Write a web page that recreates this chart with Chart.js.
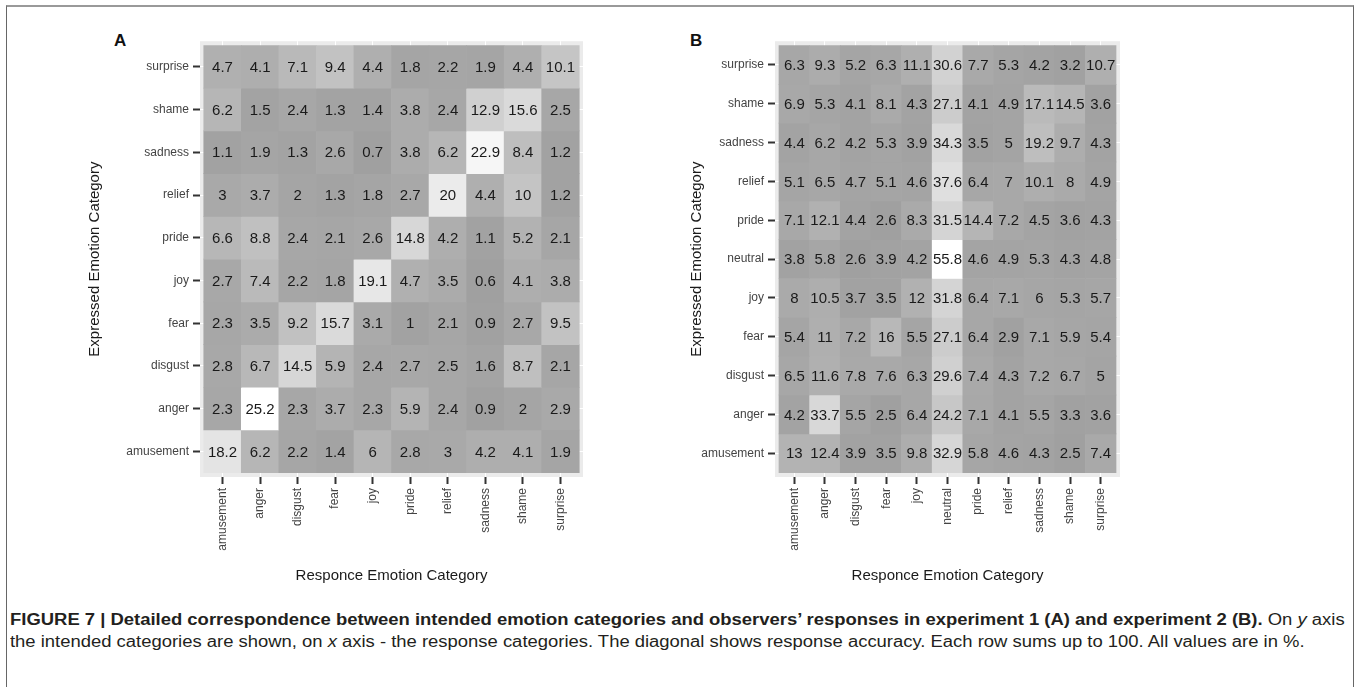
<!DOCTYPE html>
<html>
<head>
<meta charset="utf-8">
<script src="https://cdn.jsdelivr.net/npm/chart.js@4.4.1/dist/chart.umd.min.js"></script>
<style>
  body { margin: 0; background: #fff; width: 1357px; height: 687px; overflow: hidden; position: relative; font-family: "Liberation Sans", Arial, sans-serif; }
  #frame { position: absolute; left: 6px; top: 5px; width: 1348px; height: 700px; border-top: 2px solid #999; border-left: 1px solid #666; border-right: 1px solid #666; box-sizing: border-box; }
  .box { position: absolute; }
  .letter { position: absolute; font-weight: bold; font-size: 17px; color: #111; }
  .cap { position: absolute; left: 10px; font-size: 16px; color: #231f20; white-space: nowrap; transform-origin: 0 50%; }
</style>
</head>
<body>
<div id="frame"></div>
<div class="letter" style="left:114px; top:31px;">A</div>
<div class="letter" style="left:690px; top:31px;">B</div>
<div class="box" style="left:80px; top:30px; width:520px; height:560px;"><canvas id="heatA"></canvas></div>
<div class="box" style="left:680px; top:30px; width:455px; height:560px;"><canvas id="heatB"></canvas></div>
<div class="cap" id="cap1" style="top:611px;"><b>FIGURE 7 | Detailed correspondence between intended emotion categories and observers’ responses in experiment 1 (A) and experiment 2 (B).</b> On <i>y</i> axis</div>
<div class="cap" id="cap2" style="top:633px;">the intended categories are shown, on <i>x</i> axis - the response categories. The diagonal shows response accuracy. Each row sums up to 100. All values are in %.</div>

<script>
// experiment 1, rows from bottom to top, columns left to right
const emotionsA = ['amusement', 'anger', 'disgust', 'fear', 'joy', 'pride', 'relief', 'sadness', 'shame', 'surprise'];
const amusementA = [18.2, 6.2, 2.2, 1.4, 6, 2.8, 3, 4.2, 4.1, 1.9];
const angerA     = [2.3, 25.2, 2.3, 3.7, 2.3, 5.9, 2.4, 0.9, 2, 2.9];
const disgustA   = [2.8, 6.7, 14.5, 5.9, 2.4, 2.7, 2.5, 1.6, 8.7, 2.1];
const fearA      = [2.3, 3.5, 9.2, 15.7, 3.1, 1, 2.1, 0.9, 2.7, 9.5];
const joyA       = [2.7, 7.4, 2.2, 1.8, 19.1, 4.7, 3.5, 0.6, 4.1, 3.8];
const prideA     = [6.6, 8.8, 2.4, 2.1, 2.6, 14.8, 4.2, 1.1, 5.2, 2.1];
const reliefA    = [3, 3.7, 2, 1.3, 1.8, 2.7, 20, 4.4, 10, 1.2];
const sadnessA   = [1.1, 1.9, 1.3, 2.6, 0.7, 3.8, 6.2, 22.9, 8.4, 1.2];
const shameA     = [6.2, 1.5, 2.4, 1.3, 1.4, 3.8, 2.4, 12.9, 15.6, 2.5];
const surpriseA  = [4.7, 4.1, 7.1, 9.4, 4.4, 1.8, 2.2, 1.9, 4.4, 10.1];

// experiment 2
const emotionsB = ['amusement', 'anger', 'disgust', 'fear', 'joy', 'neutral', 'pride', 'relief', 'sadness', 'shame', 'surprise'];
const amusementB = [13, 12.4, 3.9, 3.5, 9.8, 32.9, 5.8, 4.6, 4.3, 2.5, 7.4];
const angerB     = [4.2, 33.7, 5.5, 2.5, 6.4, 24.2, 7.1, 4.1, 5.5, 3.3, 3.6];
const disgustB   = [6.5, 11.6, 7.8, 7.6, 6.3, 29.6, 7.4, 4.3, 7.2, 6.7, 5];
const fearB      = [5.4, 11, 7.2, 16, 5.5, 27.1, 6.4, 2.9, 7.1, 5.9, 5.4];
const joyB       = [8, 10.5, 3.7, 3.5, 12, 31.8, 6.4, 7.1, 6, 5.3, 5.7];
const neutralB   = [3.8, 5.8, 2.6, 3.9, 4.2, 55.8, 4.6, 4.9, 5.3, 4.3, 4.8];
const prideB     = [7.1, 12.1, 4.4, 2.6, 8.3, 31.5, 14.4, 7.2, 4.5, 3.6, 4.3];
const reliefB    = [5.1, 6.5, 4.7, 5.1, 4.6, 37.6, 6.4, 7, 10.1, 8, 4.9];
const sadnessB   = [4.4, 6.2, 4.2, 5.3, 3.9, 34.3, 3.5, 5, 19.2, 9.7, 4.3];
const shameB     = [6.9, 5.3, 4.1, 8.1, 4.3, 27.1, 4.1, 4.9, 17.1, 14.5, 3.6];
const surpriseB  = [6.3, 9.3, 5.2, 6.3, 11.1, 30.6, 7.7, 5.3, 4.2, 3.2, 10.7];

const rowsA = [amusementA, angerA, disgustA, fearA, joyA, prideA, reliefA, sadnessA, shameA, surpriseA];
const rowsB = [amusementB, angerB, disgustB, fearB, joyB, neutralB, prideB, reliefB, sadnessB, shameB, surpriseB];

const FONT = '"Liberation Sans", Arial, sans-serif';

// grey fill, darkest at the smallest value, white at the largest
function greyFor(v, lo, hi) {
    const g = Math.round(160 + (255 - 160) * (v - lo) / (hi - lo));
    return 'rgb(' + g + ',' + g + ',' + g + ')';
}

const panelBackground = {
    id: 'panelBackground',
    beforeDraw(chart) {
        const a = chart.chartArea;
        chart.ctx.save();
        chart.ctx.fillStyle = '#ebebeb';
        chart.ctx.fillRect(a.left, a.top, a.right - a.left, a.bottom - a.top);
        chart.ctx.restore();
    }
};

const cellText = {
    id: 'cellText',
    afterDatasetsDraw(chart) {
        const ctx = chart.ctx;
        const ds = chart.data.datasets[0];
        ctx.save();
        ctx.font = '15px ' + FONT;
        ctx.fillStyle = '#1a1a1a';
        ctx.textAlign = 'center';
        ctx.textBaseline = 'middle';
        chart.getDatasetMeta(0).data.forEach((bar, i) => {
            ctx.fillText(String(ds.data[i].v), bar.x, (bar.y + bar.base) / 2 + 1);
        });
        ctx.restore();
    }
};

function heatmap(canvasId, labels, rows, opts) {
    const all = rows.flat();
    const lo = Math.min(...all), hi = Math.max(...all);
    const cells = [], colors = [];
    rows.forEach((row, r) => {
        row.forEach((v, c) => {
            cells.push({ x: c, y: [r - 0.5, r + 0.5], v: v });
            colors.push(greyFor(v, lo, hi));
        });
    });
    const n = labels.length;

    const tickOpts = { color: '#444', font: { family: FONT, size: 12 }, padding: 4, autoSkip: false };
    const gridOpts = { color: '#ffffff', lineWidth: 1, tickLength: 7, tickColor: '#333', tickWidth: 2, offset: false };
    const titleFont = { family: FONT, size: 15 };

    return new Chart(document.getElementById(canvasId), {
        type: 'bar',
        data: {
            datasets: [{
                data: cells,
                backgroundColor: colors,
                borderWidth: 0,
                barPercentage: 1,
                categoryPercentage: 1
            }]
        },
        options: {
            responsive: true,
            maintainAspectRatio: false,
            animation: false,
            layout: { padding: { top: 7, right: opts.padRight, bottom: 0, left: 0 } },
            plugins: { legend: { display: false }, tooltip: { enabled: false } },
            scales: {
                x: {
                    type: 'linear',
                    offset: false,
                    min: -opts.xPad, max: n - 1 + opts.xPad,
                    afterBuildTicks: ax => { ax.ticks = labels.map((_, i) => ({ value: i })); },
                    afterFit: ax => { ax.height = 113; },
                    ticks: Object.assign({}, tickOpts, { minRotation: 90, maxRotation: 90, callback: v => labels[v] }),
                    grid: gridOpts,
                    border: { display: false },
                    title: { display: true, text: 'Responce Emotion Category', color: '#1a1a1a', font: titleFont, padding: { top: 0, bottom: 5 } }
                },
                y: {
                    type: 'linear',
                    min: -opts.yPad, max: n - 1 + opts.yPad,
                    afterBuildTicks: ax => { ax.ticks = labels.map((_, i) => ({ value: i })); },
                    afterFit: ax => { ax.width = opts.yWidth; },
                    ticks: Object.assign({}, tickOpts, { callback: v => labels[v] }),
                    grid: gridOpts,
                    border: { display: false },
                    title: { display: true, text: 'Expressed Emotion Category', color: '#1a1a1a', font: titleFont, padding: { top: opts.titlePad, bottom: 0 } }
                }
            }
        },
        plugins: [panelBackground, cellText]
    });
}

heatmap('heatA', emotionsA, rowsA, { xPad: 0.6, yPad: 0.6, yWidth: 120, padRight: 17, titlePad: 6 });
heatmap('heatB', emotionsB, rowsB, { xPad: 0.63, yPad: 0.61, yWidth: 95, padRight: 15, titlePad: 8 });

// squeeze the caption lines to the narrow width of the original typeface
function fitCaption(id, width) {
    const el = document.getElementById(id);
    el.style.transform = 'scaleX(' + (width / el.scrollWidth) + ')';
}
fitCaption('cap1', 1335);
fitCaption('cap2', 1295);
</script>
</body>
</html>
